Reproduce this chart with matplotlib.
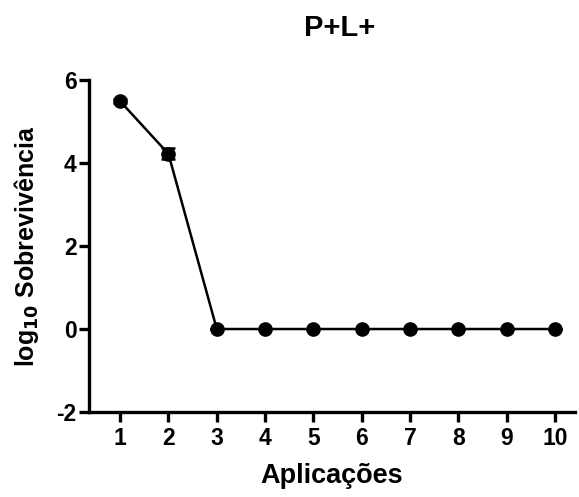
import matplotlib
matplotlib.use("Agg")
import matplotlib.pyplot as plt
import numpy as np

aplicacoes = [1, 2, 3, 4, 5, 6, 7, 8, 9, 10]
sobrevivencia = [5.49, 4.22, 0, 0, 0, 0, 0, 0, 0, 0]
erro = [0.05, 0.13, 0, 0, 0, 0, 0, 0, 0, 0]

plt.rcParams['font.family'] = ['Liberation Sans', 'DejaVu Sans']
plt.rcParams['font.weight'] = 'bold'
plt.rcParams['axes.unicode_minus'] = False

fig = plt.figure(figsize=(5.79, 4.97), dpi=100)
ax = fig.add_axes([0.154, 0.171, 0.839, 0.668])

ax.errorbar(aplicacoes, sobrevivencia, yerr=erro, color="black", marker="o",
            markersize=9.5, linewidth=1.8, elinewidth=1.8, capsize=5, capthick=1.8,
            clip_on=False, zorder=3)

ax.set_xlim(0.36, 10.41)
ax.set_ylim(-2, 6)
ax.set_yticks([-2, 0, 2, 4, 6])
ax.set_xticks(aplicacoes)
for s in ["top", "right"]:
    ax.spines[s].set_visible(False)
for s in ["left", "bottom"]:
    ax.spines[s].set_linewidth(2.4)
ax.tick_params(axis="both", width=2.4, length=7, labelsize=16.5, pad=4)
ax.tick_params(axis="y", pad=2)
for lab in ax.get_xticklabels() + ax.get_yticklabels():
    lab.set_fontweight("bold")

ax.set_xlabel("Aplicações", fontsize=19.5, fontweight="bold", labelpad=9)
ax.set_ylabel(r"log$_{\mathbf{10}}$ Sobrevivência", fontsize=18, fontweight="bold", labelpad=11)
ax.set_title("P+L+", fontsize=21, fontweight="bold", pad=32, x=0.515)

fig.savefig("out.png", dpi=100)
